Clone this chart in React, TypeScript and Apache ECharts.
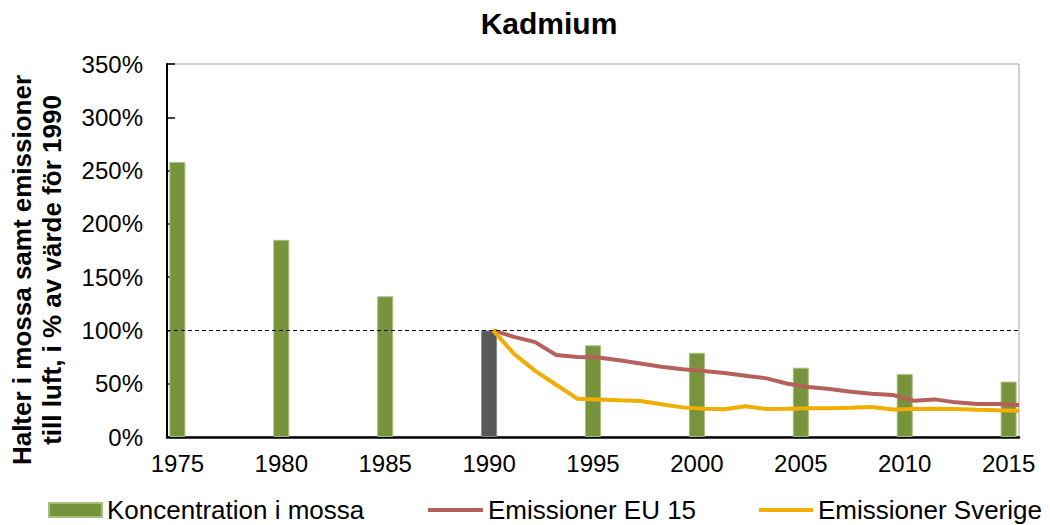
import React, { useEffect, useRef } from "react";
import * as echarts from "echarts";

const categories: string[] = [];
for (let y = 1975; y <= 2015; y++) categories.push(String(y));

const mossYears = [1975, 1980, 1985, 1990, 1995, 2000, 2005, 2010, 2015];
const mossValues = [258, 185, 132, 100, 86, 79, 65, 59, 52];

const lineYears = [1990, 1991, 1992, 1993, 1994, 1995, 1996, 1997, 1998, 1999, 2000, 2001, 2002, 2003, 2004, 2005, 2006, 2007, 2008, 2009, 2010, 2011, 2012, 2013, 2014, 2015];
const eu15Values = [100, 94, 89, 77, 75, 74.5, 72, 69, 66, 63.5, 62, 60, 57.5, 55, 50, 47, 45, 42.5, 40.5, 39.5, 34, 35.3, 32.5, 31, 31, 30];
const sverigeValues = [100, 78, 62, 49, 36, 35.3, 34.4, 33.8, 30.7, 27.8, 26.5, 26, 28.8, 26.2, 26.4, 26.9, 26.9, 27.5, 28.2, 25.8, 26.2, 26.5, 26.2, 25.5, 25, 24.7];

const yTicks = { min: 0, max: 350, interval: 50 };

const GREEN = "#77933C";
const DARK = "#58595B";
const RED = "#B5605A";
const YELLOW = "#F0AE00";
const FONT = "Liberation Sans, Arial, sans-serif";

export default function App() {
  const ref = useRef<HTMLDivElement>(null);
  useEffect(() => {
    if (!ref.current) return;
    const chart = echarts.init(ref.current, undefined, { renderer: "svg" });
    const barData = categories.map((c) => {
      const idx = mossYears.indexOf(Number(c));
      if (idx < 0) return null;
      const v = mossValues[idx];
      if (Number(c) === 1990) {
        return { value: v, itemStyle: { color: DARK, borderColor: "#8a8b8d" } };
      }
      return v;
    });
    const legendText = { fontSize: 26, color: "#000", fontFamily: FONT, lineHeight: 28 };
    chart.setOption({
      animation: false,
      textStyle: { fontFamily: FONT },
      title: {
        text: "Kadmium",
        left: 544,
        textAlign: "center",
        top: 3,
        textStyle: { fontFamily: FONT, fontSize: 30, fontWeight: "bold", color: "#000" },
      },
      grid: {
        left: 167,
        right: 31,
        top: 64,
        bottom: 88,
        show: true,
        borderColor: "#a0a0a0",
        borderWidth: 1,
        backgroundColor: "transparent",
      },
      xAxis: [
        {
          type: "category",
          data: categories,
          boundaryGap: true,
          axisLine: { lineStyle: { color: "#000", width: 2.5 } },
          axisTick: { show: false },
          axisLabel: {
            interval: 4,
            fontSize: 24,
            color: "#000",
            fontFamily: FONT,
            margin: 14,
          },
          splitLine: { show: false },
        },
        {
          type: "value",
          min: 1974.5,
          max: 2015,
          show: false,
          position: "bottom",
          splitLine: { show: false },
        },
      ],
      yAxis: {
        type: "value",
        min: yTicks.min,
        max: yTicks.max,
        interval: yTicks.interval,
        axisLine: { show: true, lineStyle: { color: "#000", width: 2 } },
        axisTick: { show: true, inside: true, length: 8, lineStyle: { color: "#000", width: 1.5 } },
        axisLabel: {
          formatter: "{value}%",
          fontSize: 24,
          color: "#000",
          fontFamily: FONT,
          margin: 24,
        },
        splitLine: { show: false },
      },
      legend: [
        {
          left: 48,
          top: 496,
          padding: 0,
          icon: "rect",
          itemWidth: 53,
          itemHeight: 14,
          data: ["Koncentration i mossa"],
          textStyle: legendText,
        },
        {
          left: 428,
          top: 496,
          padding: 0,
          icon: "rect",
          itemWidth: 55,
          itemHeight: 4,
          data: ["Emissioner EU 15"],
          textStyle: legendText,
        },
        {
          left: 759,
          top: 496,
          padding: 0,
          icon: "rect",
          itemWidth: 54,
          itemHeight: 4,
          data: ["Emissioner Sverige"],
          textStyle: legendText,
        },
      ],
      graphic: [
        {
          type: "text",
          x: 37,
          y: 270,
          rotation: Math.PI / 2,
          style: {
            text: "Halter i mossa samt emissioner\ntill luft, i % av värde för 1990",
            font: `bold 26px ${FONT}`,
            fill: "#000",
            align: "center",
            verticalAlign: "middle",
            lineHeight: 30,
          },
        },
      ],
      series: [
        {
          name: "Koncentration i mossa",
          type: "bar",
          xAxisIndex: 0,
          data: barData,
          barWidth: 16,
          itemStyle: { color: GREEN, borderColor: "#a8bd80", borderWidth: 1 },
          markLine: {
            silent: true,
            symbol: "none",
            label: { show: false },
            lineStyle: { color: "#000", type: [4, 3], width: 1 },
            data: [{ yAxis: 100 }],
          },
          z: 2,
        },
        {
          name: "Emissioner EU 15",
          type: "line",
          xAxisIndex: 1,
          data: lineYears.map((y, i) => [y, eu15Values[i]]),
          showSymbol: false,
          symbol: "none",
          lineStyle: { color: RED, width: 4 },
          itemStyle: { color: RED },
          z: 3,
        },
        {
          name: "Emissioner Sverige",
          type: "line",
          xAxisIndex: 1,
          data: lineYears.map((y, i) => [y, sverigeValues[i]]),
          showSymbol: false,
          symbol: "none",
          lineStyle: { color: YELLOW, width: 4 },
          itemStyle: { color: YELLOW },
          z: 4,
        },
      ],
    });
    return () => chart.dispose();
  }, []);
  return (
    <div
      ref={ref}
      style={{ position: "fixed", left: 0, top: 0, width: 1050, height: 525, background: "#fff" }}
    />
  );
}
